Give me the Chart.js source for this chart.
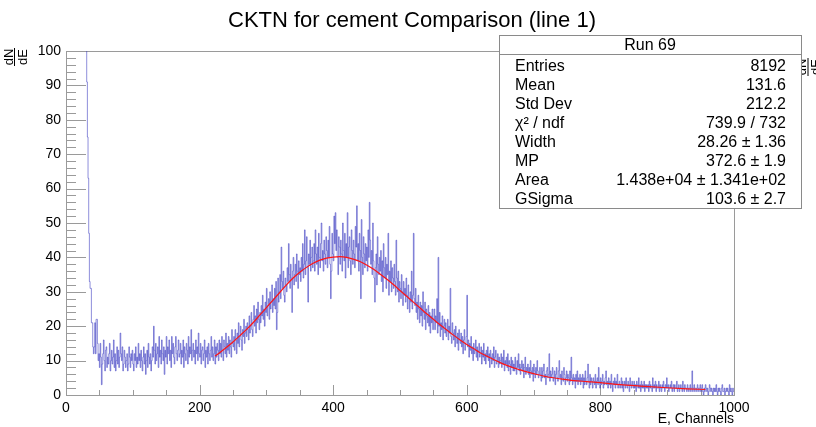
<!DOCTYPE html>
<html>
<head>
<meta charset="utf-8">
<script src="https://cdn.jsdelivr.net/npm/chart.js@4.4.1/dist/chart.umd.min.js"></script>
<style>
    html, body { margin: 0; padding: 0; background: #fff; }
</style>
</head>
<body>
<canvas id="chart" width="816" height="427"></canvas>
<script>
// histogram: left edge of first bin, bin width (channels), counts per bin (one row = 20 channels)
const binStart = 30;
const binWidth = 1;
const counts = [
    130, 91, 75, 63, 47, 33, 31, 31, 21, 21, 14, 12, 14, 21, 12, 22, 22, 15, 10, 12,
    8, 15, 11, 3, 9, 12, 16, 10, 7, 13, 14, 8, 11, 9, 12, 15, 7, 10, 13, 9,
    11, 16, 8, 12, 7, 10, 14, 9, 13, 8, 11, 18, 12, 10, 14, 7, 9, 13, 11, 8,
    10, 12, 7, 9, 14, 11, 8, 12, 10, 13, 9, 7, 12, 10, 14, 8, 11, 9, 15, 10,
    12, 8, 13, 10, 7, 11, 14, 9, 12, 6, 10, 13, 8, 15, 11, 9, 12, 7, 10, 14,
    11, 20, 13, 9, 15, 10, 12, 14, 8, 17, 11, 13, 9, 16, 12, 10, 14, 6, 13, 11,
    17, 9, 14, 12, 16, 10, 13, 8, 17, 12, 15, 11, 9, 14, 17, 12, 10, 13, 16, 11,
    12, 15, 9, 13, 11, 16, 8, 14, 12, 10, 15, 13, 9, 17, 11, 14, 12, 19, 10, 13,
    15, 11, 13, 9, 16, 12, 14, 10, 18, 12, 11, 15, 9, 13, 14, 10, 12, 16, 8, 13,
    11, 14, 9, 15, 12, 10, 13, 17, 11, 14, 10, 12, 16, 9, 14, 11, 15, 13, 10, 16,
    12, 15, 11, 17, 13, 10, 16, 14, 12, 18, 11, 15, 13, 17, 12, 16, 14, 11, 19, 15,
    14, 17, 13, 19, 16, 12, 18, 15, 21, 14, 17, 20, 16, 13, 19, 17, 22, 15, 18, 20,
    17, 21, 19, 16, 23, 18, 20, 24, 19, 17, 22, 26, 20, 23, 18, 25, 21, 27, 22, 19,
    24, 21, 26, 23, 29, 22, 25, 20, 27, 24, 31, 23, 26, 28, 22, 30, 25, 27, 32, 24,
    28, 26, 31, 25, 33, 19, 24, 34, 27, 30, 35, 28, 43, 33, 31, 36, 29, 27, 34, 32,
    30, 37, 33, 44, 35, 31, 38, 34, 24, 36, 40, 32, 35, 38, 33, 41, 36, 31, 39, 35,
    37, 33, 40, 36, 44, 34, 38, 48, 35, 39, 46, 37, 27, 41, 38, 45, 36, 40, 43, 37,
    39, 44, 36, 48, 41, 38, 43, 35, 47, 40, 37, 44, 50, 39, 42, 36, 45, 41, 38, 46,
    42, 37, 45, 40, 49, 38, 28, 36, 47, 41, 39, 52, 44, 53, 42, 48, 40, 35, 46, 43,
    38, 45, 41, 36, 50, 42, 39, 47, 34, 44, 40, 53, 37, 43, 46, 39, 35, 48, 42, 38,
    45, 41, 37, 49, 43, 55, 39, 44, 36, 47, 42, 28, 51, 40, 35, 46, 41, 37, 44, 39,
    43, 36, 48, 40, 56, 45, 38, 42, 35, 50, 39, 34, 27, 37, 41, 32, 46, 38, 35, 40,
    36, 42, 33, 39, 30, 44, 37, 34, 40, 31, 38, 35, 47, 29, 36, 33, 39, 30, 37, 34,
    31, 38, 33, 29, 45, 34, 30, 36, 27, 33, 31, 28, 35, 30, 26, 33, 29, 31, 27, 34,
    29, 25, 32, 28, 24, 30, 27, 36, 25, 29, 47, 28, 26, 31, 24, 27, 22, 29, 25, 21,
    27, 23, 26, 20, 30, 24, 22, 27, 19, 25, 23, 21, 26, 20, 24, 18, 23, 21, 25, 19,
    22, 25, 19, 23, 21, 28, 18, 40, 20, 24, 17, 21, 19, 23, 16, 20, 22, 18, 21, 17,
    19, 22, 16, 20, 18, 31, 17, 15, 21, 18, 16, 19, 14, 20, 17, 15, 18, 13, 19, 16,
    15, 18, 14, 17, 12, 16, 19, 13, 15, 17, 29, 14, 16, 11, 15, 13, 17, 12, 14, 10,
    15, 12, 13, 16, 11, 14, 10, 13, 15, 11, 12, 14, 9, 13, 11, 15, 10, 12, 9, 13,
    11, 14, 10, 12, 8, 13, 11, 9, 12, 10, 14, 8, 11, 13, 9, 10, 12, 8, 11, 9,
    10, 12, 8, 11, 9, 13, 7, 10, 9, 11, 8, 12, 7, 10, 9, 6, 11, 8, 10, 7,
    9, 7, 11, 8, 6, 10, 8, 12, 7, 9, 6, 8, 10, 7, 9, 5, 8, 11, 6, 8,
    7, 9, 6, 8, 5, 10, 7, 6, 8, 4, 9, 7, 5, 8, 6, 10, 7, 5, 6, 8,
    6, 4, 8, 5, 7, 9, 5, 6, 3, 7, 8, 5, 6, 12, 4, 7, 5, 6, 8, 4,
    5, 7, 3, 6, 8, 5, 4, 7, 10, 5, 6, 3, 7, 5, 4, 8, 6, 3, 5, 7,
    4, 6, 5, 3, 7, 4, 11, 5, 3, 6, 4, 5, 2, 6, 4, 7, 3, 5, 4, 6,
    3, 5, 4, 6, 2, 5, 3, 7, 4, 3, 5, 9, 4, 2, 6, 3, 5, 4, 2, 5,
    4, 3, 6, 2, 4, 5, 3, 8, 4, 2, 5, 3, 4, 6, 2, 4, 3, 5, 7, 3,
    4, 2, 5, 3, 4, 2, 6, 3, 1, 4, 3, 5, 2, 4, 3, 6, 2, 3, 4, 2,
    3, 5, 2, 4, 1, 3, 4, 2, 5, 3, 2, 4, 3, 1, 5, 3, 2, 4, 3, 2,
    4, 2, 3, 1, 4, 3, 2, 5, 2, 3, 1, 4, 2, 3, 2, 4, 1, 3, 2, 3,
    2, 3, 1, 4, 2, 3, 2, 1, 5, 2, 3, 2, 4, 1, 3, 2, 2, 4, 1, 3,
    2, 1, 3, 2, 4, 2, 1, 3, 2, 5, 2, 3, 1, 2, 3, 2, 4, 1, 2, 3,
    1, 3, 2, 2, 4, 1, 2, 3, 1, 2, 3, 2, 1, 4, 2, 1, 3, 2, 2, 1,
    3, 2, 1, 2, 3, 1, 2, 7, 1, 2, 3, 1, 2, 2, 1, 3, 2, 1, 2, 3,
    1, 2, 3, 1, 0, 2, 1, 3, 2, 1, 2, 0, 1, 3, 2, 1, 2, 1, 0, 2,
    1, 2, 1, 3, 1, 0, 2, 1, 2, 1, 0, 2, 3, 1, 1, 2, 0, 1, 2, 1,
    2, 1, 0, 3, 1, 2, 1, 0, 2, 1
];

// fitted curve
const fitChannels = [223, 230, 240, 250, 260, 270, 280, 290, 300, 310, 320, 330, 340, 350, 360, 370,
    380, 390, 400, 410, 420, 430, 440, 450, 460, 470, 480, 490, 500, 510, 520, 530, 540, 550,
    560, 570, 580, 590, 600, 610, 620, 630, 640, 650, 660, 670, 680, 690, 700, 720, 740, 760,
    780, 800, 830, 860, 900, 930, 957];
const fitValues = [11.3, 12.3, 13.8, 15.4, 17.2, 19.0, 21.0, 23.2, 25.4, 27.6, 29.8, 32.0, 34.0, 35.7, 37.1, 38.3,
    39.2, 39.8, 40.1, 40.2, 40.0, 39.5, 38.8, 37.8, 36.6, 35.2, 33.7, 32.1, 30.4, 28.7, 27.0, 25.3, 23.6, 22.0,
    20.4, 18.9, 17.4, 16.0, 14.7, 13.5, 12.3, 11.3, 10.3, 9.4, 8.6, 7.9, 7.3, 6.7, 6.2, 5.3, 4.7, 4.2,
    3.9, 3.6, 3.0, 2.6, 2.1, 1.8, 1.6];

const titleText = 'CKTN for cement Comparison (line 1)';
const xTitle = 'E, Channels';
const statsHeader = 'Run 69';
const statsLabels = ['Entries', 'Mean', 'Std Dev', 'χ² / ndf', 'Width', 'MP', 'Area', 'GSigma'];
const statsValues = ['8192', '131.6', '212.2', '739.9 / 732', '28.26 ± 1.36', '372.6 ± 1.9',
    '1.438e+04 ± 1.341e+02', '103.6 ± 2.7'];

const FONT = '"Liberation Sans", Arial, Helvetica, sans-serif';

const histPoints = counts.map((c, i) => ({ x: binStart + i * binWidth, y: c }));
histPoints.push({ x: binStart + counts.length * binWidth, y: counts[counts.length - 1] });
const fitPoints = fitChannels.map((c, i) => ({ x: c, y: fitValues[i] }));

function drawFraction(ctx, cx, cy) {
    ctx.save();
    ctx.translate(cx, cy);
    ctx.rotate(-Math.PI / 2);
    ctx.font = '13px ' + FONT;
    ctx.fillStyle = '#000';
    ctx.textAlign = 'center';
    ctx.textBaseline = 'alphabetic';
    ctx.fillText('dN', 0, -2);
    ctx.textBaseline = 'top';
    ctx.fillText('dE', 0, 2);
    ctx.strokeStyle = '#000';
    ctx.lineWidth = 1;
    ctx.beginPath();
    ctx.moveTo(-9, 0);
    ctx.lineTo(9, 0);
    ctx.stroke();
    ctx.restore();
}

// ROOT-like frame with inward ticks, plus title and stats box
const rootFrame = {
    id: 'rootFrame',
    beforeDatasetsDraw(chart) {
        const { ctx, chartArea: a, scales: { x, y } } = chart;
        ctx.save();
        ctx.strokeStyle = '#9a9a9a';
        ctx.lineWidth = 1;
        ctx.beginPath();
        for (let v = 0; v <= 1000; v += 50) {
            const px = Math.round(x.getPixelForValue(v)) + 0.5;
            const len = v % 200 === 0 ? 10 : 5;
            ctx.moveTo(px, a.bottom);
            ctx.lineTo(px, a.bottom - len);
        }
        for (let v = 0; v <= 100; v += 2) {
            const py = Math.round(y.getPixelForValue(v)) + 0.5;
            const len = v % 10 === 0 ? 20 : 10;
            ctx.moveTo(a.left, py);
            ctx.lineTo(a.left + len, py);
        }
        ctx.stroke();
        ctx.strokeRect(Math.round(a.left) + 0.5, Math.round(a.top) + 0.5,
            Math.round(a.right - a.left), Math.round(a.bottom - a.top));
        ctx.restore();
    },
    afterDraw(chart) {
        const { ctx, chartArea: a } = chart;
        ctx.save();
        ctx.fillStyle = '#000';
        ctx.font = '22px ' + FONT;
        ctx.textAlign = 'center';
        ctx.textBaseline = 'middle';
        ctx.fillText(titleText, 412, 21);

        ctx.font = '14px ' + FONT;
        ctx.textAlign = 'right';
        ctx.fillText(xTitle, a.right, 419);

        drawFraction(ctx, 14.5, 57);
        drawFraction(ctx, 808, 67);

        // stats box
        ctx.fillStyle = '#fff';
        ctx.fillRect(499, 35, 303, 174);
        ctx.strokeStyle = '#8a8a8a';
        ctx.lineWidth = 1;
        ctx.strokeRect(499.5, 35.5, 302, 173);
        ctx.beginPath();
        ctx.moveTo(499.5, 54.5);
        ctx.lineTo(801.5, 54.5);
        ctx.stroke();

        ctx.fillStyle = '#000';
        ctx.font = '16px ' + FONT;
        ctx.textAlign = 'center';
        ctx.fillText(statsHeader, 650, 46);
        statsLabels.forEach((lab, i) => {
            const yy = 66.5 + i * 19.05;
            ctx.textAlign = 'left';
            ctx.fillText(lab, 515, yy);
            ctx.textAlign = 'right';
            ctx.fillText(statsValues[i], 786, yy);
        });
        ctx.restore();
    }
};

new Chart(document.getElementById('chart'), {
    type: 'line',
    data: {
        datasets: [
            {
                label: 'histogram',
                data: histPoints,
                stepped: true,
                borderColor: 'rgba(50, 50, 190, 0.55)',
                borderWidth: 1,
                pointRadius: 0,
                fill: false,
                order: 2
            },
            {
                label: 'fit',
                data: fitPoints,
                borderColor: 'rgb(255, 20, 20)',
                borderWidth: 1.2,
                pointRadius: 0,
                tension: 0.4,
                cubicInterpolationMode: 'monotone',
                fill: false,
                order: 1
            }
        ]
    },
    options: {
        responsive: false,
        animation: false,
        devicePixelRatio: 1,
        layout: { padding: { top: 51, right: 82, left: 0, bottom: 0 } },
        plugins: {
            legend: { display: false },
            title: { display: false },
            tooltip: { enabled: false }
        },
        scales: {
            x: {
                type: 'linear',
                min: 0,
                max: 1000,
                afterFit: s => { s.height = 32; },
                grid: { display: false, drawTicks: false },
                border: { display: false },
                ticks: {
                    stepSize: 200,
                    padding: 5,
                    color: '#000',
                    font: { family: FONT, size: 14 },
                    maxRotation: 0,
                    callback: v => String(v)
                }
            },
            y: {
                min: 0,
                max: 100,
                afterFit: s => { s.width = 66; },
                grid: { display: false, drawTicks: false },
                border: { display: false },
                ticks: {
                    stepSize: 10,
                    padding: 5,
                    color: '#000',
                    font: { family: FONT, size: 14 }
                }
            }
        }
    },
    plugins: [rootFrame]
});
</script>
</body>
</html>
